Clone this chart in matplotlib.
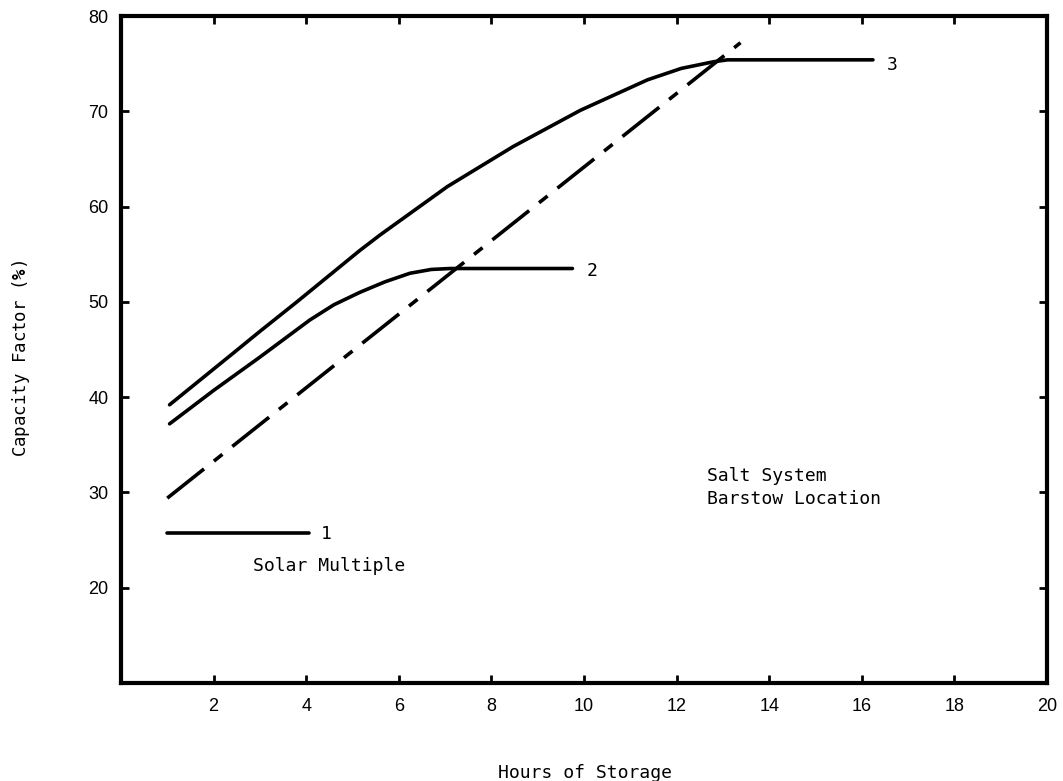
import matplotlib
matplotlib.use("Agg")
import matplotlib.pyplot as plt

# ---- data ----
sm3_x = [1.05, 2.42, 3.0, 3.8, 5.16, 5.59, 7.05, 8.47, 9.92, 11.37, 12.1, 12.8, 13.1, 16.24]
sm3_y = [39.2, 44.6, 46.9, 50.0, 55.4, 57.0, 62.1, 66.3, 70.1, 73.3, 74.5, 75.2, 75.4, 75.4]

sm2_x = [1.05, 2.0, 3.0, 4.08, 4.6, 5.16, 5.7, 6.24, 6.7, 7.11, 9.75]
sm2_y = [37.2, 40.7, 44.2, 48.1, 49.7, 51.0, 52.1, 53.0, 53.4, 53.5, 53.5]

sm1_x = [1.0, 4.06]
sm1_y = [25.75, 25.75]

limit_x = [1.0, 13.38]
limit_y = [29.4, 77.2]

x_ticks = [2, 4, 6, 8, 10, 12, 14, 16, 18, 20]
y_ticks = [20, 30, 40, 50, 60, 70, 80]

mono = "DejaVu Sans Mono"
plt.rcParams["mathtext.fontset"] = "custom"
plt.rcParams["mathtext.bf"] = "DejaVu Sans Mono:bold"
plt.rcParams["mathtext.rm"] = "DejaVu Sans Mono"

fig = plt.figure(figsize=(10.63, 7.81), dpi=100)
ax = fig.add_axes([0.1138, 0.1255, 0.985 - 0.1138, 0.9795 - 0.1255])

lw = 2.6
ax.plot(sm3_x, sm3_y, color="black", lw=lw, solid_capstyle="round", solid_joinstyle="round")
ax.plot(sm2_x, sm2_y, color="black", lw=lw, solid_capstyle="round", solid_joinstyle="round")
ax.plot(sm1_x, sm1_y, color="black", lw=lw, solid_capstyle="round")
ax.plot(limit_x, limit_y, color="black", lw=lw, dashes=(13, 3.5, 3, 3.5))

ax.text(sm1_x[-1] + 0.25, sm1_y[-1] - 0.1, "1", fontsize=13, family=mono, va="center", ha="left")
ax.text(sm2_x[-1] + 0.3, sm2_y[-1] - 0.3, "2", fontsize=13, family=mono, va="center", ha="left")
ax.text(sm3_x[-1] + 0.3, sm3_y[-1] - 0.5, "3", fontsize=13, family=mono, va="center", ha="left")

ax.text(2.85, 22.3, "Solar Multiple", fontsize=13, family=mono, va="center", ha="left")
ax.text(12.65, 28.4, "Salt System\nBarstow Location", fontsize=13, family=mono,
        va="bottom", ha="left", linespacing=1.3)

ax.set_xlim(0, 20)
ax.set_ylim(10, 80)
ax.set_xticks(x_ticks)
ax.set_yticks(y_ticks)
ax.tick_params(direction="in", length=6, width=2, top=True, right=True,
               labelsize=13, pad=9)
for lab in ax.get_xticklabels() + ax.get_yticklabels():
    lab.set_family(["Liberation Sans Narrow", "Liberation Sans", "DejaVu Sans"])
ax.tick_params(axis="x", pad=11)
ax.tick_params(axis="y", pad=9)
ax.tick_params(labeltop=False, labelright=False)

for s in ax.spines.values():
    s.set_linewidth(3)

fig.text(585 / 1063, 1 - 773 / 781, "Hours of Storage", fontsize=13, family=mono,
         ha="center", va="center")
fig.text(21 / 1063, 1 - 358 / 781, r"Capacity Factor ($\mathbf{\%}$)", fontsize=12.5,
         family=mono, ha="center", va="center", rotation=90)

fig.savefig("out.png", dpi=100)
